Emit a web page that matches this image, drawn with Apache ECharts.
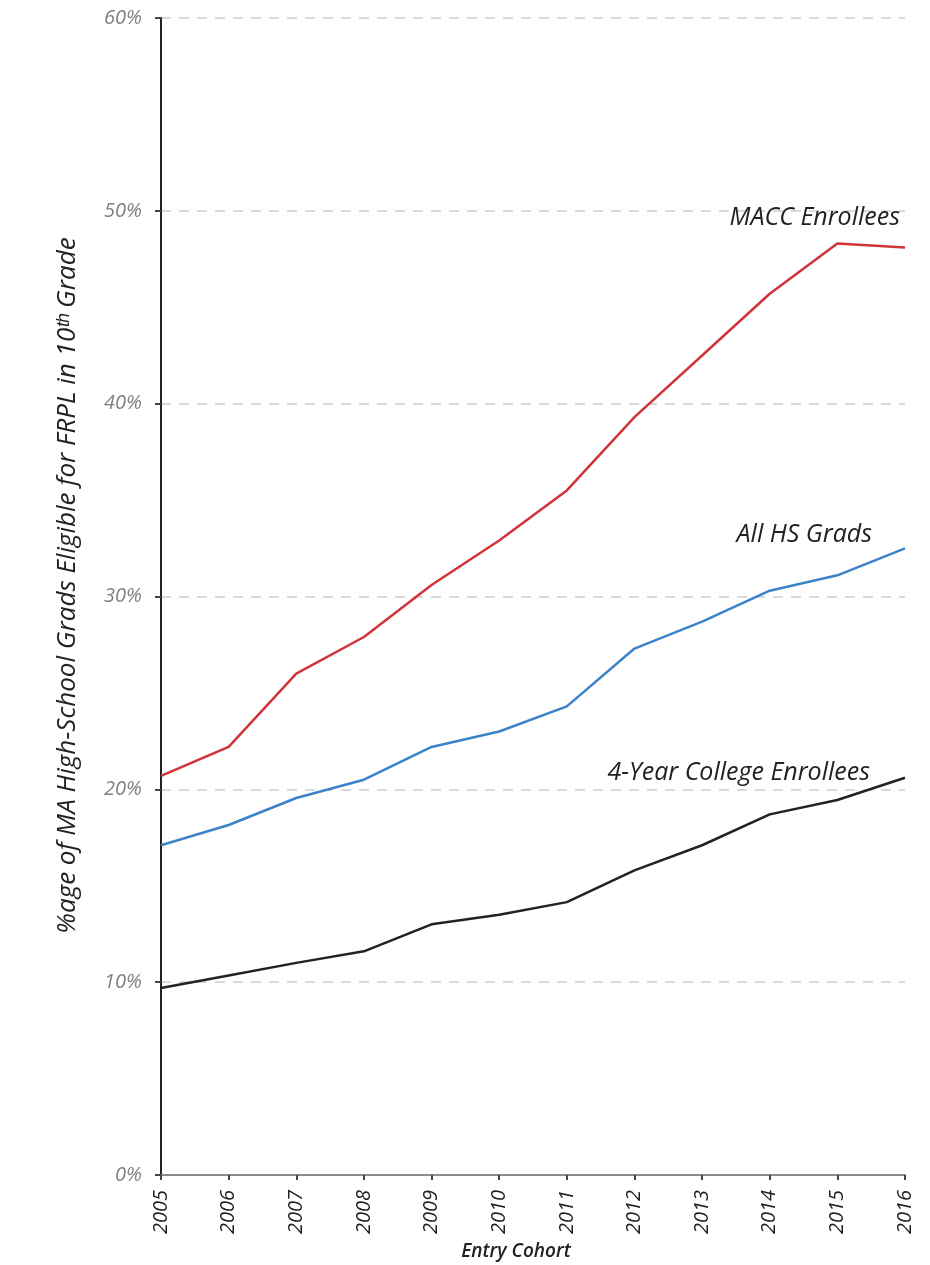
<!DOCTYPE html>
<html><head><meta charset="utf-8">
<script src="https://cdn.jsdelivr.net/npm/echarts@6/dist/echarts.min.js"></script>
<style>html,body{margin:0;padding:0;background:#fff}#c{width:930px;height:1265px}</style>
</head><body><div id="c"></div>
<script>
const years = ['2005','2006','2007','2008','2009','2010','2011','2012','2013','2014','2015','2016'];
const maccEnrollees = [20.7,22.2,26.0,27.9,30.6,32.9,35.5,39.3,42.5,45.7,48.3,48.1];
const allHSGrads = [17.1,18.15,19.55,20.5,22.2,23.0,24.3,27.3,28.7,30.3,31.1,32.5];
const fourYearEnrollees = [9.7,10.35,11.0,11.6,13.0,13.5,14.15,15.8,17.1,18.7,19.45,20.6];
const yTicks = [0,10,20,30,40,50,60];

const font = '"Open Sans", "Liberation Sans", sans-serif';
const chart = echarts.init(document.getElementById('c'));
function lbl(off){
  return {show:true, formatter:'{a}', align:'right', verticalAlign:'middle', offset:off, distance:0,
    fontFamily:font, fontStyle:'italic', fontSize:25, color:'#222'};
}
chart.setOption({
  animation:false,
  grid:{left:161, right:25, top:18, bottom:90, containLabel:false, outerBoundsMode:'none'},
  xAxis:{type:'category', data:years, boundaryGap:false,
    axisLine:{lineStyle:{color:'#8c8c8c', width:2}},
    axisTick:{show:true, length:5, lineStyle:{color:'#444', width:2}},
    axisLabel:{rotate:90, fontFamily:font, fontStyle:'italic', fontSize:20, color:'#222', margin:15},
    name:'Entry Cohort', nameLocation:'middle', nameGap:67,
    nameTextStyle:{fontFamily:font, fontStyle:'italic', fontWeight:600, fontSize:19, color:'#222', padding:[0,34,0,0]}
  },
  yAxis:{type:'value', min:yTicks[0], max:yTicks[yTicks.length-1], interval:10,
    axisLine:{show:true, lineStyle:{color:'#222', width:2}},
    axisTick:{show:true, length:6, lineStyle:{color:'#444', width:2}},
    axisLabel:{formatter:'{value}%', fontFamily:font, fontStyle:'italic', fontSize:20, color:'#808080', margin:19},
    splitLine:{show:true, lineStyle:{color:'#d9d9d9', width:2, type:[10,8]}},
    name:'%age of MA High-School Grads Eligible for FRPL in 10ᵗʰ Grade', nameLocation:'middle', nameGap:80,
    nameTextStyle:{fontFamily:font, fontStyle:'italic', fontSize:26, color:'#222', padding:[0,0,0,22]}
  },
  series:[
    {name:'MACC Enrollees', type:'line', data:maccEnrollees, symbol:'none',
      lineStyle:{color:'#d13438', width:2.5}, itemStyle:{color:'#d13438'}, endLabel:lbl([-5,-30])},
    {name:'All HS Grads', type:'line', data:allHSGrads, symbol:'none',
      lineStyle:{color:'#3b82c9', width:2.5}, itemStyle:{color:'#3b82c9'}, endLabel:lbl([-33,-13])},
    {name:'4-Year College Enrollees', type:'line', data:fourYearEnrollees, symbol:'none',
      lineStyle:{color:'#222', width:2.5}, itemStyle:{color:'#222'}, endLabel:lbl([-35,-5])}
  ]
});
</script></body></html>
